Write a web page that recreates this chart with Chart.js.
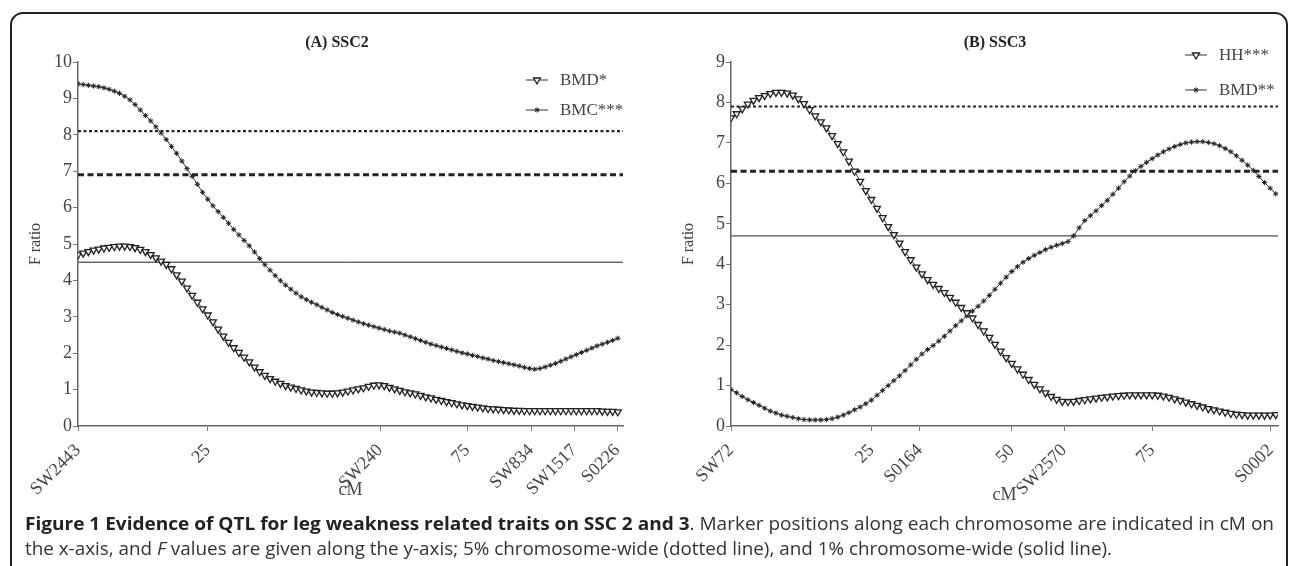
<!DOCTYPE html>
<html>
<head>
<meta charset="utf-8">
<title>QTL SSC2 / SSC3</title>
<script src="https://cdn.jsdelivr.net/npm/chart.js@4.4.1/dist/chart.umd.min.js"></script>
<style>
    html, body { margin: 0; padding: 0; background: #fff; }
    body { width: 1290px; height: 566px; position: relative; overflow: hidden; }
    #frame { position: absolute; left: 10px; top: 12px; width: 1278px; height: 640px;
             border: 2px solid #222; border-radius: 13px; box-sizing: border-box; }
    .panel { position: absolute; top: 0; }
    .cap { position: absolute; left: 25px; white-space: nowrap; font-family: "Open Sans", sans-serif;
           font-size: 18px; line-height: 24px; color: #333; transform-origin: 0 0; display: inline-block; }
    .cap b { color: #222; }
</style>
</head>
<body>
<div id="frame"></div>
<div class="panel" style="left:0"><canvas id="chartA" width="650" height="540"></canvas></div>
<div class="panel" style="left:645px"><canvas id="chartB" width="645" height="540"></canvas></div>
<div class="cap" id="cap1" data-w="1249" style="top:511px"><b>Figure 1 Evidence of QTL for leg weakness related traits on SSC 2 and 3</b>. Marker positions along each chromosome are indicated in cM on</div>
<div class="cap" id="cap2" data-w="1087" style="top:536px">the x-axis, and <i>F</i> values are given along the y-axis; 5% chromosome-wide (dotted line), and 1% chromosome-wide (solid line).</div>

<script>
// (A) SSC2 - F ratio read at each 1 cM step of the scan
const ssc2BMD = [4.70, 4.75, 4.79, 4.83, 4.86, 4.89, 4.91, 4.93, 4.94, 4.94,
    4.93, 4.90, 4.85, 4.79, 4.71, 4.62, 4.53, 4.44, 4.32, 4.15,
    3.98, 3.79, 3.59, 3.40, 3.22, 3.05, 2.86, 2.66, 2.47, 2.30,
    2.15, 2.02, 1.89, 1.76, 1.62, 1.49, 1.39, 1.30, 1.23, 1.17,
    1.11, 1.07, 1.03, 0.99, 0.96, 0.93, 0.92, 0.91, 0.90, 0.90,
    0.91, 0.93, 0.96, 0.99, 1.02, 1.05, 1.09, 1.12, 1.13, 1.11,
    1.06, 1.02, 0.98, 0.94, 0.91, 0.88, 0.84, 0.80, 0.77, 0.73,
    0.70, 0.67, 0.64, 0.61, 0.58, 0.56, 0.54, 0.52, 0.50, 0.48,
    0.47, 0.46, 0.45, 0.44, 0.43, 0.43, 0.42, 0.42, 0.42, 0.42,
    0.42, 0.42, 0.42, 0.42, 0.42, 0.42, 0.42, 0.42, 0.42, 0.42,
    0.42, 0.41, 0.40, 0.40, 0.39];
const ssc2BMC = [9.40, 9.38, 9.36, 9.34, 9.32, 9.29, 9.25, 9.20, 9.14, 9.06,
    8.96, 8.83, 8.68, 8.53, 8.38, 8.22, 8.05, 7.87, 7.68, 7.49,
    7.28, 7.07, 6.86, 6.64, 6.42, 6.23, 6.05, 5.89, 5.73, 5.57,
    5.40, 5.25, 5.10, 4.95, 4.78, 4.60, 4.43, 4.28, 4.13, 3.99,
    3.87, 3.76, 3.65, 3.55, 3.47, 3.40, 3.33, 3.26, 3.19, 3.12,
    3.06, 3.01, 2.96, 2.91, 2.86, 2.81, 2.77, 2.73, 2.69, 2.65,
    2.61, 2.58, 2.55, 2.50, 2.45, 2.40, 2.35, 2.30, 2.25, 2.21,
    2.17, 2.13, 2.09, 2.05, 2.01, 1.98, 1.94, 1.91, 1.87, 1.84,
    1.80, 1.77, 1.74, 1.71, 1.68, 1.65, 1.61, 1.58, 1.56, 1.58,
    1.62, 1.67, 1.72, 1.78, 1.84, 1.90, 1.96, 2.02, 2.08, 2.14,
    2.20, 2.25, 2.30, 2.35, 2.41];
const ssc2TickPos = [0, 25, 58.2, 75, 87.3, 95.6, 103.9];
const ssc2TickLabels = ['SW2443', '25', 'SW240', '75', 'SW834', 'SW1517', 'S0226'];
const ssc2Thresholds = [8.1, 6.9, 4.5];

// (B) SSC3
const ssc3HH = [7.62, 7.72, 7.84, 7.96, 8.05, 8.12, 8.17, 8.22, 8.25, 8.25,
    8.23, 8.18, 8.09, 7.97, 7.82, 7.67, 7.52, 7.37, 7.18, 6.98,
    6.78, 6.55, 6.30, 6.05, 5.82, 5.60, 5.38, 5.15, 4.93, 4.73,
    4.52, 4.31, 4.11, 3.93, 3.76, 3.62, 3.50, 3.40, 3.30, 3.18,
    3.06, 2.93, 2.80, 2.67, 2.51, 2.35, 2.19, 2.02, 1.85, 1.69,
    1.55, 1.41, 1.28, 1.15, 1.03, 0.92, 0.82, 0.73, 0.66, 0.61,
    0.60, 0.61, 0.63, 0.65, 0.67, 0.69, 0.71, 0.72, 0.74, 0.75,
    0.76, 0.77, 0.77, 0.77, 0.77, 0.77, 0.76, 0.74, 0.71, 0.67,
    0.63, 0.59, 0.55, 0.51, 0.47, 0.43, 0.40, 0.37, 0.34, 0.31,
    0.29, 0.28, 0.27, 0.27, 0.27, 0.27, 0.27, 0.28];
const ssc3BMD = [0.90, 0.82, 0.73, 0.65, 0.58, 0.51, 0.44, 0.37, 0.32, 0.27,
    0.24, 0.21, 0.18, 0.16, 0.15, 0.15, 0.15, 0.16, 0.18, 0.22,
    0.27, 0.33, 0.40, 0.47, 0.55, 0.64, 0.76, 0.88, 1.00, 1.12,
    1.24, 1.37, 1.51, 1.65, 1.78, 1.89, 1.99, 2.10, 2.22, 2.35,
    2.48, 2.60, 2.72, 2.84, 2.96, 3.09, 3.23, 3.38, 3.53, 3.68,
    3.82, 3.94, 4.05, 4.14, 4.22, 4.29, 4.36, 4.42, 4.47, 4.51,
    4.56, 4.70, 4.90, 5.08, 5.20, 5.32, 5.45, 5.58, 5.73, 5.88,
    6.04, 6.18, 6.31, 6.42, 6.52, 6.61, 6.70, 6.78, 6.85, 6.91,
    6.96, 7.00, 7.02, 7.03, 7.03, 7.01, 6.98, 6.93, 6.86, 6.78,
    6.68, 6.57, 6.45, 6.32, 6.17, 6.02, 5.88, 5.74];
const ssc3TickPos = [0, 25, 33.6, 50, 59.3, 75, 96.1];
const ssc3TickLabels = ['SW72', '25', 'S0164', '50', 'SW2570', '75', 'S0002'];
const ssc3Thresholds = [7.9, 6.3, 4.7];

Chart.defaults.font.family = '"Liberation Serif", serif';
Chart.defaults.color = '#444';

// scan positions are every 1 cM
const toPoints = vals => vals.map((v, i) => ({ x: i, y: v }));

const lineStyles = [
    { borderDash: [3, 2.5], borderWidth: 2.2 },
    { borderDash: [6, 3.5], borderWidth: 3 },
    { borderDash: [], borderWidth: 1 }
];

const triStyle = { pointStyle: 'triangle', pointRotation: 180, pointRadius: 4,
    pointBorderWidth: 1.3, pointBorderColor: '#222', pointBackgroundColor: '#f4f4f4' };
const starStyle = { pointStyle: 'star', pointRotation: 0, pointRadius: 2.6,
    pointBorderWidth: 1, pointBorderColor: '#222', pointBackgroundColor: '#222' };

// title + legend drawn inside the plot area
const panelDeco = {
    id: 'panelDeco',
    afterDatasetsDraw(chart, args, opts) {
        const ctx = chart.ctx;
        ctx.save();
        ctx.fillStyle = '#222';
        ctx.font = 'bold 16px "Liberation Serif"';
        ctx.textAlign = 'center';
        ctx.textBaseline = 'middle';
        ctx.fillText(opts.title, opts.titleX, opts.titleY);

        ctx.font = '17px "Liberation Serif"';
        ctx.textAlign = 'left';
        opts.legendY.forEach((y, i) => {
            const ds = chart.data.datasets[i];
            const x = opts.legendX;
            ctx.strokeStyle = '#333';
            ctx.lineWidth = 1;
            ctx.setLineDash([]);
            ctx.beginPath();
            ctx.moveTo(x, y);
            ctx.lineTo(x + 22, y);
            ctx.stroke();
            ctx.fillStyle = ds.pointBackgroundColor;
            ctx.strokeStyle = ds.pointBorderColor;
            ctx.lineWidth = ds.pointBorderWidth;
            Chart.helpers.drawPoint(ctx, {
                pointStyle: ds.pointStyle, rotation: ds.pointRotation,
                radius: ds.pointRadius, borderWidth: ds.pointBorderWidth
            }, x + 11, y);
            ctx.fillStyle = '#444';
            ctx.fillText(ds.label, x + 34, y + 1);
        });
        ctx.restore();
    }
};

function makePanel(canvasId, cfg) {
    const datasets = [
        Object.assign({ label: cfg.names[0], data: toPoints(cfg.series[0]) }, cfg.styles[0]),
        Object.assign({ label: cfg.names[1], data: toPoints(cfg.series[1]) }, cfg.styles[1])
    ];
    datasets.forEach(ds => { ds.borderColor = '#333'; ds.borderWidth = 1; ds.tension = 0; });
    cfg.thresholds.forEach((t, i) => {
        datasets.push(Object.assign({
            label: 'threshold' + i,
            data: [{ x: 0, y: t }, { x: cfg.xMax, y: t }],
            borderColor: '#222', pointRadius: 0
        }, lineStyles[i]));
    });

    return new Chart(document.getElementById(canvasId), {
        type: 'line',
        data: { datasets },
        plugins: [panelDeco],
        options: {
            responsive: false,
            animation: false,
            devicePixelRatio: 1,
            layout: { padding: cfg.padding },
            plugins: {
                legend: { display: false },
                tooltip: { enabled: false },
                panelDeco: cfg.deco
            },
            scales: {
                x: {
                    type: 'linear', min: 0, max: cfg.xMax,
                    afterBuildTicks: s => { s.ticks = cfg.tickPos.map(v => ({ value: v })); },
                    afterFit: s => { s.height = 90; s.paddingLeft = 0; s.paddingRight = 0; },
                    ticks: {
                        autoSkip: false, minRotation: 45, maxRotation: 45, padding: 9,
                        font: { size: 18 }, color: '#444',
                        callback: (v, i) => cfg.tickLabels[i]
                    },
                    grid: { drawOnChartArea: false, tickLength: 5, color: '#777' },
                    border: { color: '#666', width: 1.5 },
                    title: { display: true, text: 'cM', font: { size: 18 }, color: '#444',
                             padding: { top: 0, bottom: cfg.cmPad } }
                },
                y: {
                    min: 0, max: cfg.yMax,
                    afterFit: s => { s.width = 56; },
                    ticks: {
                        stepSize: 0.5, padding: 1, font: { size: 18 }, color: '#444',
                        callback: v => Number.isInteger(v) ? v : ''
                    },
                    grid: { drawOnChartArea: false, tickLength: 5, color: '#777' },
                    border: { color: '#666', width: 1.5 },
                    title: { display: true, text: 'F ratio', font: { size: 16 }, color: '#444' }
                }
            }
        }
    });
}

makePanel('chartA', {
    names: ['BMD*', 'BMC***'],
    series: [ssc2BMD, ssc2BMC],
    styles: [triStyle, starStyle],
    thresholds: ssc2Thresholds,
    tickPos: ssc2TickPos,
    tickLabels: ssc2TickLabels,
    xMax: 105, yMax: 10,
    padding: { left: 22, right: 27, top: 62, bottom: 24 },
    cmPad: 15,
    deco: { title: '(A) SSC2', titleX: 337, titleY: 43, legendX: 526, legendY: [80, 110] }
});

makePanel('chartB', {
    names: ['HH***', 'BMD**'],
    series: [ssc3HH, ssc3BMD],
    styles: [triStyle, starStyle],
    thresholds: ssc3Thresholds,
    tickPos: ssc3TickPos,
    tickLabels: ssc3TickLabels,
    xMax: 97.4, yMax: 9,
    padding: { left: 30, right: 12, top: 62, bottom: 24 },
    cmPad: 10,
    deco: { title: '(B) SSC3', titleX: 350, titleY: 43, legendX: 540, legendY: [55, 90] }
});

// squeeze caption lines to the printed widths
document.querySelectorAll('.cap').forEach(el => {
    const w = el.getBoundingClientRect().width;
    el.style.transform = 'scaleX(' + (Number(el.dataset.w) / w) + ')';
});
</script>
</body>
</html>
